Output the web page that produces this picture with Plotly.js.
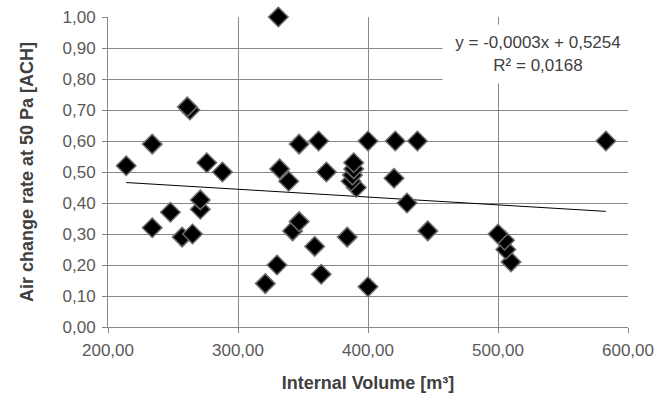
<!DOCTYPE html>
<html>
<head>
<meta charset="utf-8">
<script src="https://cdn.plot.ly/plotly-3.0.1.min.js"></script>
<style>html,body{margin:0;padding:0;background:#fff;}#chart{width:656px;height:399px;}</style>
</head>
<body>
<div id="chart"></div>
<script>
// Internal volume [m3] and air change rate at 50 Pa [ACH]
const volume = [214, 234, 234, 248, 257, 265, 263, 261, 271, 271, 276, 288, 321, 330, 331, 332, 339, 342, 347, 347, 359, 362, 364, 368, 384, 391, 387, 388, 389, 389, 400, 400, 420, 421, 430, 438, 446, 510, 506, 505, 500, 583];
const ach    = [0.52, 0.59, 0.32, 0.37, 0.29, 0.30, 0.70, 0.71, 0.38, 0.41, 0.53, 0.50, 0.14, 0.20, 1.00, 0.51, 0.47, 0.31, 0.59, 0.34, 0.26, 0.60, 0.17, 0.50, 0.29, 0.45, 0.47, 0.49, 0.51, 0.53, 0.60, 0.13, 0.48, 0.60, 0.40, 0.60, 0.31, 0.21, 0.25, 0.28, 0.30, 0.60];

// Linear trendline endpoints (as drawn)
const trendX = [214, 583];
const trendY = [0.466, 0.373];

const equationText = "y = -0,0003x + 0,5254<br>R² = 0,0168";
const xTitle = "Internal Volume [m³]";
const yTitle = "Air change rate at 50 Pa [ACH]";

const gridColor = "#878787";
const tickFont = {family: "Liberation Sans, Arial, sans-serif", size: 17, color: "#595959"};
const titleFont = {family: "Liberation Sans, Arial, sans-serif", size: 18, color: "#404040", weight: "bold"};

const traces = [
  {
    x: trendX, y: trendY, type: "scatter", mode: "lines",
    line: {color: "#000000", width: 1}, hoverinfo: "skip", showlegend: false
  },
  {
    x: volume, y: ach, type: "scatter", mode: "markers", cliponaxis: false,
    marker: {symbol: "diamond", size: 15, color: "#000000", line: {color: "#6a6a6a", width: 1.5}},
    showlegend: false
  }
];

const layout = {
  width: 656, height: 399,
  margin: {l: 108, r: 28, t: 17, b: 72, pad: 0},
  paper_bgcolor: "#ffffff", plot_bgcolor: "#ffffff",
  separators: ", ",
  showlegend: false,
  xaxis: {
    range: [200, 600], dtick: 100, tick0: 200, tickformat: ".2f",
    showgrid: true, gridcolor: gridColor, gridwidth: 1,
    showline: true, linecolor: gridColor, linewidth: 1,
    ticks: "outside", ticklen: 5, tickcolor: gridColor, ticklabelstandoff: 3,
    zeroline: false, tickfont: tickFont,
    title: {text: "<b>" + xTitle + "</b>", font: titleFont, standoff: 16}
  },
  yaxis: {
    range: [0, 1], dtick: 0.1, tick0: 0, tickformat: ".2f",
    showgrid: true, gridcolor: gridColor, gridwidth: 1,
    showline: true, linecolor: gridColor, linewidth: 1,
    ticks: "outside", ticklen: 5, tickcolor: gridColor, ticklabelstandoff: 3,
    zeroline: false, tickfont: tickFont,
    title: {text: "<b>" + yTitle + "</b>", font: titleFont, standoff: 24}
  },
  annotations: [{
    xref: "x", yref: "y", x: 530.8, y: 0.881,
    text: equationText, showarrow: false,
    bgcolor: "#ffffff", width: 190, height: 58, borderpad: 0,
    font: {family: "Liberation Sans, Arial, sans-serif", size: 17, color: "#404040"},
    align: "center"
  }]
};

Plotly.newPlot("chart", traces, layout, {displayModeBar: false, staticPlot: true});
</script>
</body>
</html>
